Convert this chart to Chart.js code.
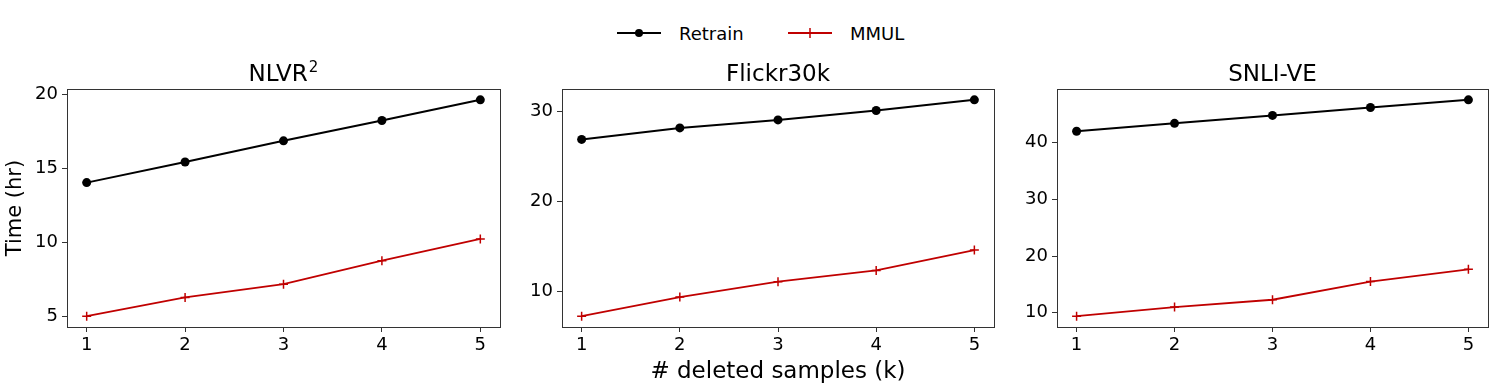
<!DOCTYPE html>
<html>
<head>
<meta charset="utf-8">
<script src="https://cdn.jsdelivr.net/npm/chart.js@4.4.0/dist/chart.umd.min.js"></script>
<style>
    body { margin: 0; background: #fff; width: 1494px; height: 389px; overflow: hidden; position: relative; font-family: 'DejaVu Sans', sans-serif; }
    .panel { position: absolute; top: 55px; height: 334px; }
    #legend { position: absolute; top: 20px; left: 0; width: 1494px; height: 26px; font-size: 18px; color: #000; }
    #legend .item { position: absolute; top: 0; display: flex; align-items: center; height: 26px; }
    #legend svg { margin-right: 16px; }
</style>
</head>
<body>
<div id="legend">
    <div class="item" style="left:615px">
        <svg width="48" height="14"><line x1="2" y1="7" x2="46" y2="7" stroke="#000" stroke-width="2"/><circle cx="24" cy="7" r="4" fill="#000"/></svg>
        <span>Retrain</span>
    </div>
    <div class="item" style="left:786px">
        <svg width="48" height="14"><line x1="2" y1="7" x2="46" y2="7" stroke="#c00000" stroke-width="2"/><line x1="24" y1="2" x2="24" y2="12" stroke="#c00000" stroke-width="1.5"/></svg>
        <span>MMUL</span>
    </div>
</div>
<div class="panel" style="left:0px;width:506px"><canvas id="nlvrChart"></canvas></div>
<div class="panel" style="left:502px;width:498px"><canvas id="flickrChart"></canvas></div>
<div class="panel" style="left:996px;width:498px"><canvas id="snliChart"></canvas></div>
<script>
// values (hours)
const deletedK = [1, 2, 3, 4, 5];

const nlvrRetrain = [14.05, 15.45, 16.88, 18.26, 19.66];
const nlvrMmul = [5.0, 6.27, 7.17, 8.76, 10.23];

const flickrRetrain = [26.9, 28.18, 29.07, 30.11, 31.3];
const flickrMmul = [7.25, 9.37, 11.08, 12.34, 14.6];

const snliRetrain = [42.0, 43.4, 44.8, 46.2, 47.55];
const snliMmul = [9.4, 11.0, 12.3, 15.5, 17.66];

Chart.defaults.font.family = "'DejaVu Sans', sans-serif";
Chart.defaults.color = '#000';

const axisColor = '#333';
const mmulColor = '#c00000';

// draws the top/right edges of the box and the panel title over the plot area
const framePlugin = {
    id: 'frame',
    afterDraw(chart, args, opts) {
        const { ctx, chartArea: a } = chart;
        ctx.save();
        ctx.strokeStyle = axisColor;
        ctx.lineWidth = 1;
        ctx.strokeRect(Math.round(a.left) + 0.5, Math.round(a.top) + 0.5,
            Math.round(a.right - a.left), Math.round(a.bottom - a.top));

        // title (with optional superscript)
        ctx.fillStyle = '#000';
        ctx.textBaseline = 'alphabetic';
        ctx.font = "23px 'DejaVu Sans', sans-serif";
        const w1 = ctx.measureText(opts.title).width;
        let w2 = 0;
        if (opts.sup) {
            ctx.font = "15px 'DejaVu Sans', sans-serif";
            w2 = ctx.measureText(opts.sup).width + 1;
        }
        const x0 = (a.left + a.right) / 2 - (w1 + w2) / 2;
        const y0 = a.top - 8;
        ctx.font = "23px 'DejaVu Sans', sans-serif";
        ctx.textAlign = 'left';
        ctx.fillText(opts.title, x0, y0);
        if (opts.sup) {
            ctx.font = "15px 'DejaVu Sans', sans-serif";
            ctx.fillText(opts.sup, x0 + w1 + 1, y0 - 9);
        }
        ctx.restore();
    }
};

function yRange(values) {
    // matplotlib-like 5% margins
    const lo = Math.min(...values), hi = Math.max(...values);
    const pad = (hi - lo) * 0.05;
    return { min: lo - pad, max: hi + pad };
}

function makePanel(canvasId, title, sup, retrain, mmul, yStep, yAxisWidth, showYTitle, showXTitle) {
    const range = yRange(retrain.concat(mmul));
    const toPoints = (vals) => deletedK.map((k, i) => ({ x: k, y: vals[i] }));

    return new Chart(document.getElementById(canvasId), {
        type: 'line',
        data: {
            datasets: [{
                label: 'Retrain',
                data: toPoints(retrain),
                borderColor: '#000',
                backgroundColor: '#000',
                borderWidth: 2,
                pointStyle: 'circle',
                pointRadius: 4.5,
                pointBorderWidth: 0
            }, {
                label: 'MMUL',
                data: toPoints(mmul),
                borderColor: mmulColor,
                backgroundColor: mmulColor,
                borderWidth: 1.8,
                pointStyle: 'cross',
                pointRadius: 4.5,
                pointBorderWidth: 1.5
            }]
        },
        options: {
            responsive: true,
            maintainAspectRatio: false,
            animation: false,
            events: [],
            layout: { padding: { top: 34, right: 2, left: 0, bottom: 0 } },
            elements: { line: { tension: 0 } },
            scales: {
                x: {
                    type: 'linear',
                    min: 0.8,
                    max: 5.2,
                    ticks: { stepSize: 1, includeBounds: false, font: { size: 18 }, padding: 3, color: '#000' },
                    grid: { drawOnChartArea: false, tickLength: 5, color: axisColor },
                    border: { color: axisColor },
                    title: {
                        display: showXTitle,
                        text: '# deleted samples (k)',
                        font: { size: 23 },
                        padding: { top: 0, bottom: 3 }
                    },
                    afterFit: (scale) => { scale.height = 62; }
                },
                y: {
                    min: range.min,
                    max: range.max,
                    ticks: { stepSize: yStep, includeBounds: false, font: { size: 18 }, padding: 4, color: '#000' },
                    grid: { drawOnChartArea: false, tickLength: 5, color: axisColor },
                    border: { color: axisColor },
                    title: {
                        display: showYTitle,
                        text: 'Time (hr)',
                        font: { size: 21 },
                        padding: { top: 3, bottom: 0 }
                    },
                    afterFit: (scale) => { scale.width = yAxisWidth; }
                }
            },
            plugins: {
                legend: { display: false },
                tooltip: { enabled: false },
                frame: { title: title, sup: sup }
            }
        },
        plugins: [framePlugin]
    });
}

makePanel('nlvrChart', 'NLVR', '2', nlvrRetrain, nlvrMmul, 5, 67, true, false);
makePanel('flickrChart', 'Flickr30k', '', flickrRetrain, flickrMmul, 10, 60, false, true);
makePanel('snliChart', 'SNLI-VE', '', snliRetrain, snliMmul, 10, 61, false, false);
</script>
</body>
</html>
